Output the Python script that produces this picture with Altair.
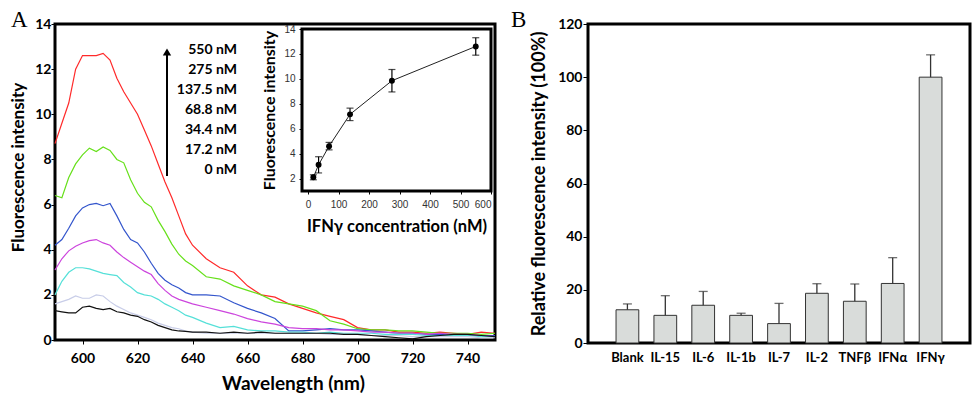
import altair as alt
import pandas as pd

# ---------------- data ----------------
wavelength = [590, 592.5, 595, 597.5, 600, 602.5, 605, 607.5, 610, 612.5,
              615, 617.5, 620, 622.5, 625, 627.5, 630, 632.5, 635, 637.5,
              640, 645, 650, 655, 660, 665, 670, 675, 680, 685,
              690, 695, 700, 705, 710, 715, 720, 725, 730, 735,
              740, 745, 750]

series_names = ["550 nM", "275 nM", "137.5 nM", "68.8 nM", "34.4 nM", "17.2 nM", "0 nM"]
series_colors = ["#ff2a2a", "#66e01a", "#3355cc", "#cc44dd", "#55e0d8", "#c8cde8", "#111111"]

spec_550 = [8.7, 9.6, 10.5, 12.0, 12.6, 12.6, 12.6, 12.7, 12.4, 11.6,
            11.0, 10.5, 10.0, 9.3, 8.6, 7.8, 7.0, 6.3, 5.5, 4.7,
            4.2, 3.6, 3.2, 3.0, 2.4, 2.0, 1.9, 1.6, 1.4, 1.2,
            1.05, 0.9, 0.55, 0.45, 0.45, 0.35, 0.35, 0.3, 0.35, 0.3,
            0.25, 0.35, 0.3]
spec_275 = [6.4, 6.3, 7.2, 7.8, 8.2, 8.5, 8.35, 8.55, 8.4, 8.0,
            7.85, 7.1, 6.5, 6.1, 5.9, 5.3, 4.8, 4.25, 3.8, 3.5,
            3.3, 2.8, 2.7, 2.4, 2.2, 2.0, 1.7, 1.6, 1.5, 1.3,
            0.85, 0.7, 0.5, 0.45, 0.45, 0.4, 0.4, 0.35, 0.3, 0.3,
            0.3, 0.25, 0.3]
spec_137 = [4.2, 4.45, 4.95, 5.5, 5.85, 6.0, 6.05, 5.95, 6.05, 5.5,
            4.9, 4.45, 4.3, 3.9, 3.4, 2.95, 2.65, 2.45, 2.3, 2.1,
            2.0, 2.0, 1.95, 1.65, 1.4, 1.2, 0.95, 0.4, 0.4, 0.45,
            0.5, 0.45, 0.45, 0.4, 0.35, 0.3, 0.3, 0.25, 0.25, 0.2,
            0.2, 0.2, 0.2]
spec_68 = [3.1, 3.6, 3.95, 4.15, 4.3, 4.4, 4.45, 4.3, 4.2, 3.9,
           3.65, 3.45, 3.25, 3.05, 2.9, 2.5, 2.2, 1.95, 1.8, 1.7,
           1.6, 1.45, 1.3, 1.15, 0.95, 0.8, 0.7, 0.55, 0.5, 0.5,
           0.45, 0.45, 0.4, 0.35, 0.35, 0.3, 0.3, 0.25, 0.3, 0.25,
           0.25, 0.2, 0.15]
spec_34 = [2.0, 2.6, 3.0, 3.2, 3.2, 3.15, 3.05, 2.95, 2.9, 2.85,
           2.55, 2.35, 2.1, 2.0, 1.95, 1.8, 1.6, 1.45, 1.3, 1.1,
           1.0, 0.75, 0.55, 0.6, 0.45, 0.4, 0.4, 0.35, 0.35, 0.3,
           0.35, 0.3, 0.3, 0.3, 0.25, 0.25, 0.25, 0.2, 0.2, 0.2,
           0.2, 0.15, 0.15]
spec_17 = [1.6, 1.7, 1.8, 1.95, 1.85, 1.85, 2.0, 1.95, 1.7, 1.5,
           1.35, 1.2, 1.1, 1.0, 0.9, 0.75, 0.65, 0.55, 0.5, 0.4,
           0.35, 0.3, 0.3, 0.3, 0.3, 0.3, 0.3, 0.3, 0.3, 0.3,
           0.25, 0.25, 0.25, 0.2, 0.2, 0.2, 0.15, 0.15, 0.15, 0.15,
           0.15, 0.1, 0.1]
spec_0 = [1.3, 1.25, 1.2, 1.2, 1.45, 1.5, 1.4, 1.35, 1.4, 1.25,
          1.2, 1.1, 1.05, 0.9, 0.8, 0.65, 0.55, 0.45, 0.4, 0.38,
          0.35, 0.35, 0.3, 0.35, 0.3, 0.35, 0.3, 0.3, 0.3, 0.3,
          0.3, 0.25, 0.25, 0.2, 0.15, 0.1, 0.05, 0.15, 0.2, 0.25,
          0.25, 0.2, 0.15]

inset_conc = [17.2, 34.4, 68.8, 137.5, 275, 550]
inset_mean = [2.1, 3.1, 4.6, 7.15, 9.85, 12.6]
inset_err = [0.2, 0.65, 0.3, 0.5, 0.9, 0.7]

cytokines = ["Blank", "IL-15", "IL-6", "IL-1b", "IL-7", "IL-2", "TNFβ", "IFNα", "IFNγ"]
rel_mean = [12.5, 10.4, 14.2, 10.4, 7.3, 18.7, 15.7, 22.4, 100]
rel_err = [2.2, 7.4, 5.2, 0.8, 7.6, 3.6, 6.5, 9.7, 8.4]

FONT = "Lato"
WA, HA = 440, 316
WB, HB = 382, 319

# ---------------- panel A ----------------
rows = []
for name, vals in zip(series_names, [spec_550, spec_275, spec_137, spec_68, spec_34, spec_17, spec_0]):
    for w, v in zip(wavelength, vals):
        rows.append({"wl": w, "fi": v, "series": name})
spec_df = pd.DataFrame(rows)
one = pd.DataFrame({"k": [0]})

lines = alt.Chart(spec_df).mark_line(strokeWidth=1.2).encode(
    x=alt.X("wl:Q", scale=alt.Scale(domain=[590, 750], nice=False, zero=False),
            axis=alt.Axis(values=list(range(600, 741, 20)), title="Wavelength (nm)",
                          labelFont=FONT, labelFontWeight="bold", labelFontSize=14,
                          tickSize=4, labelPadding=7, titleFont=FONT, titleFontWeight="bold",
                          titleFontSize=19, titlePadding=9, titleX=238)),
    y=alt.Y("fi:Q", scale=alt.Scale(domain=[0, 14], nice=False),
            axis=alt.Axis(values=list(range(0, 15, 2)), title="Fluorescence intensity",
                          labelFont=FONT, labelFontWeight="bold", labelFontSize=14,
                          tickSize=4, labelPadding=0, titleFont=FONT, titleFontWeight="bold",
                          titleFontSize=17, titlePadding=7, titleY=143)),
    color=alt.Color("series:N", scale=alt.Scale(domain=series_names, range=series_colors), legend=None),
)

conc_text = alt.Chart(one).mark_text(
    text=series_names, align="right", baseline="top", lineHeight=20,
    font=FONT, fontWeight="bold", fontSize=14, color="black"
).encode(x=alt.value(182), y=alt.value(19))

arrow = alt.Chart(one).mark_rule(strokeWidth=2, color="black").encode(
    x=alt.value(112), y=alt.value(152), y2=alt.value(30))
arrow_head = alt.Chart(one).mark_point(shape="triangle-up", filled=True, size=70,
                                       color="black", opacity=1).encode(
    x=alt.value(112), y=alt.value(28))

letter_a = alt.Chart(one).mark_text(text="A", font="Liberation Serif", fontSize=23,
                                    align="left", baseline="top", color="black").encode(
    x=alt.value(-44), y=alt.value(-15))

main_layer = alt.layer(lines, conc_text, arrow, arrow_head, letter_a)

inset_df = pd.DataFrame({
    "conc": inset_conc,
    "fi": inset_mean,
    "lo": [m - e for m, e in zip(inset_mean, inset_err)],
    "hi": [m + e for m, e in zip(inset_mean, inset_err)],
})
ix = alt.Scale(domain=[-20, 600], range=[247, 436], nice=False, zero=False)
iy = alt.Scale(domain=[1, 14], range=[167, 5], nice=False, zero=False)
ix_axis = alt.Axis(orient="bottom", offset=167 - HA, values=list(range(0, 601, 100)),
                   title="IFNγ concentration (nM)", domain=False, tickSize=3,
                   labelFont="Liberation Sans", labelFontSize=10, labelColor="#333",
                   labelPadding=5, titleFont=FONT, titleFontWeight="bold",
                   titleFontSize=16.5, titlePadding=9)
iy_axis = alt.Axis(orient="left", offset=-247, values=list(range(2, 15, 2)),
                   title="Fluorescence intensity", domain=False, tickSize=3,
                   labelFont="Liberation Sans", labelFontSize=10, labelColor="#333",
                   labelPadding=4, titleFont=FONT, titleFontWeight="bold",
                   titleFontSize=16, titlePadding=6)

inset_frame = alt.Chart(one).mark_rect(fill="white", stroke="black", strokeWidth=3).encode(
    x=alt.X(datum=-20, scale=ix, axis=ix_axis), x2=alt.X2(datum=600),
    y=alt.Y(datum=1, scale=iy, axis=iy_axis), y2=alt.Y2(datum=14))
inset_line = alt.Chart(inset_df).mark_line(color="#222", strokeWidth=1).encode(
    x=alt.X("conc:Q", scale=ix, axis=ix_axis), y=alt.Y("fi:Q", scale=iy, axis=iy_axis))
inset_err_rule = alt.Chart(inset_df).mark_rule(color="black", strokeWidth=1.2).encode(
    x=alt.X("conc:Q", scale=ix, axis=ix_axis), y=alt.Y("lo:Q", scale=iy, axis=iy_axis), y2="hi:Q")
inset_cap_lo = alt.Chart(inset_df).mark_tick(orient="horizontal", size=7, thickness=1.2, color="black").encode(
    x=alt.X("conc:Q", scale=ix, axis=ix_axis), y=alt.Y("lo:Q", scale=iy, axis=iy_axis))
inset_cap_hi = alt.Chart(inset_df).mark_tick(orient="horizontal", size=7, thickness=1.2, color="black").encode(
    x=alt.X("conc:Q", scale=ix, axis=ix_axis), y=alt.Y("hi:Q", scale=iy, axis=iy_axis))
inset_pts = alt.Chart(inset_df).mark_point(filled=True, size=35, color="black", opacity=1).encode(
    x=alt.X("conc:Q", scale=ix, axis=ix_axis), y=alt.Y("fi:Q", scale=iy, axis=iy_axis))

inset_layer = alt.layer(inset_frame, inset_line, inset_err_rule, inset_cap_lo, inset_cap_hi, inset_pts)

panel_a = alt.layer(main_layer, inset_layer).resolve_scale(
    x="independent", y="independent").properties(width=WA, height=HA)

# ---------------- panel B ----------------
dfB = pd.DataFrame({
    "cyt": cytokines,
    "val": rel_mean,
    "hi": [m + e for m, e in zip(rel_mean, rel_err)],
})
bx = alt.X("cyt:N", sort=cytokines, scale=alt.Scale(paddingInner=0.4, paddingOuter=0.74),
           axis=alt.Axis(title=None, labelAngle=0, ticks=False, labelFont=FONT,
                         labelFontWeight="bold", labelFontSize=13, labelPadding=8))
by_axis = alt.Axis(values=list(range(0, 121, 20)), title="Relative fluorescence intensity (100%)",
                   labelFont=FONT, labelFontWeight="bold", labelFontSize=14, tickSize=5,
                   labelPadding=1, titleFont=FONT, titleFontWeight="bold", titleFontSize=18,
                   titlePadding=9)
by_scale = alt.Scale(domain=[0, 120], nice=False)

bars = alt.Chart(dfB).mark_bar(fill="#d9dcda", stroke="#333", strokeWidth=1).encode(
    x=bx, y=alt.Y("val:Q", scale=by_scale, axis=by_axis))
err_b = alt.Chart(dfB).mark_rule(color="#333", strokeWidth=1.3).encode(
    x=bx, y=alt.Y("val:Q", scale=by_scale, axis=by_axis), y2="hi:Q")
caps_b = alt.Chart(dfB).mark_tick(color="#333", thickness=1.3, size=9).encode(
    x=bx, y=alt.Y("hi:Q", scale=by_scale, axis=by_axis))
letter_b = alt.Chart(one).mark_text(text="B", font="Liberation Serif", fontSize=23,
                                    align="left", baseline="top", color="black").encode(
    x=alt.value(-77), y=alt.value(-15))

panel_b = alt.layer(bars, err_b, caps_b, letter_b).properties(width=WB, height=HB)

chart = alt.hconcat(panel_a, panel_b, spacing=10).properties(
    padding={"left": 0, "right": 0, "top": -1, "bottom": 0}, background="white"
).configure_view(stroke="black", strokeWidth=3).configure_axis(
    grid=False, domain=False, labelColor="black", titleColor="black", tickColor="black"
)

chart.save("out.html", embed_options={"renderer": "svg", "actions": False})
